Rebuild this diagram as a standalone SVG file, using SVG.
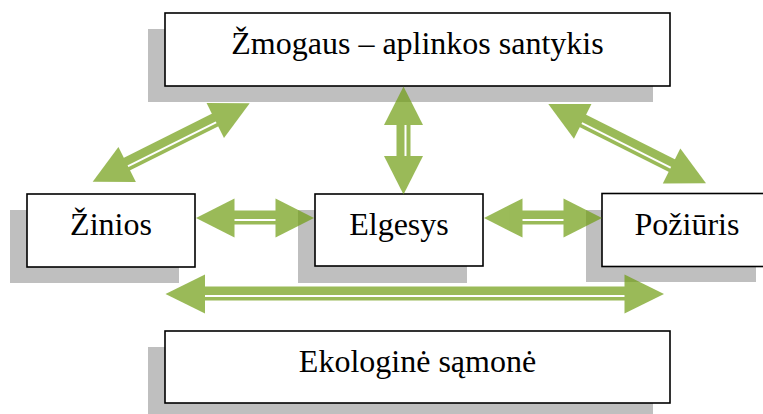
<svg xmlns="http://www.w3.org/2000/svg" width="763" height="414" viewBox="0 0 763 414">
  <style>
    .shadow { fill: #BFBFBF; }
    .box { fill: #FFFFFF; stroke: #000000; stroke-width: 1.6; }
    .label { font-family: "Liberation Serif", "Times New Roman", serif; font-size: 32px; fill: #000000; text-anchor: middle; }
    .arrow { opacity: 0.7; }
    .arrow path, .arrow rect { fill: #709E12; }
  </style>
  <rect width="763" height="414" fill="#FFFFFF"/>

  <g id="node-santykis">
    <rect class="shadow" x="148" y="29" width="505" height="73"/>
    <rect class="box" x="165" y="13" width="505" height="73"/>
    <text class="label" x="417.5" y="54">Žmogaus – aplinkos santykis</text>
  </g>
  <g id="node-zinios">
    <rect class="shadow" x="10" y="210" width="169" height="73"/>
    <rect class="box" x="27" y="194" width="168" height="73"/>
    <text class="label" x="111" y="235">Žinios</text>
  </g>
  <g id="node-elgesys">
    <rect class="shadow" x="298" y="210" width="169" height="73"/>
    <rect class="box" x="315" y="194" width="168" height="72"/>
    <text class="label" x="399" y="235">Elgesys</text>
  </g>
  <g id="node-poziuris">
    <rect class="shadow" x="586" y="210" width="170" height="72"/>
    <rect class="box" x="602" y="193.5" width="169" height="73"/>
    <text class="label" x="687" y="235">Požiūris</text>
  </g>
  <g id="node-samone">
    <rect class="shadow" x="148" y="347" width="505" height="72"/>
    <rect class="box" x="165" y="331" width="505" height="72"/>
    <text class="label" x="417.5" y="372">Ekologinė sąmonė</text>
  </g>

  <g id="connectors">
    <!-- Žinios <-> Elgesys -->
    <g class="arrow" transform="translate(196,218)">
      <rect x="37" y="-7.5" width="44" height="8.5"/>
      <rect x="37" y="3" width="44" height="3.5"/>
      <path d="M0,0 L38.5,-19.5 L38.5,19.5 Z"/>
      <path d="M118,0 L79.5,-19.5 L79.5,19.5 Z"/>
    </g>
    <!-- Elgesys <-> Požiūris -->
    <g class="arrow" transform="translate(484,218)">
      <rect x="37" y="-7.5" width="44" height="8.5"/>
      <rect x="37" y="3" width="44" height="3.5"/>
      <path d="M0,0 L38.5,-19.5 L38.5,19.5 Z"/>
      <path d="M118,0 L79.5,-19.5 L79.5,19.5 Z"/>
    </g>
    <!-- Santykis <-> Elgesys (vertical) -->
    <g class="arrow" transform="translate(403.5,194.5) rotate(-90)">
      <rect x="37" y="-7" width="34" height="8"/>
      <rect x="37" y="3" width="34" height="4"/>
      <path d="M0,0 L38.5,-19.5 L38.5,19.5 Z"/>
      <path d="M108,0 L69.5,-19.5 L69.5,19.5 Z"/>
    </g>
    <!-- Santykis <-> Žinios (diagonal) -->
    <g class="arrow" transform="translate(92.7,181.7) rotate(-26.54)">
      <rect x="37" y="-7.5" width="101.5" height="8.5"/>
      <rect x="37" y="3" width="101.5" height="3.5"/>
      <path d="M0,0 L38.5,-19.5 L38.5,19.5 Z"/>
      <path d="M175.5,0 L137,-19.5 L137,19.5 Z"/>
    </g>
    <!-- Santykis <-> Požiūris (diagonal) -->
    <g class="arrow" transform="translate(548.3,104) rotate(26.7)">
      <rect x="37" y="-7.5" width="102.5" height="8.5"/>
      <rect x="37" y="3" width="102.5" height="3.5"/>
      <path d="M0,0 L38.5,-19.5 L38.5,19.5 Z"/>
      <path d="M176.5,0 L138,-19.5 L138,19.5 Z"/>
    </g>
    <!-- Long bottom arrow -->
    <g class="arrow" transform="translate(165.5,294)">
      <rect x="38" y="-7.5" width="423" height="8.5"/>
      <rect x="38" y="3" width="423" height="3.5"/>
      <path d="M0,0 L39.5,-19.5 L39.5,19.5 Z"/>
      <path d="M498.5,0 L459,-19.5 L459,19.5 Z"/>
    </g>
  </g>
</svg>
